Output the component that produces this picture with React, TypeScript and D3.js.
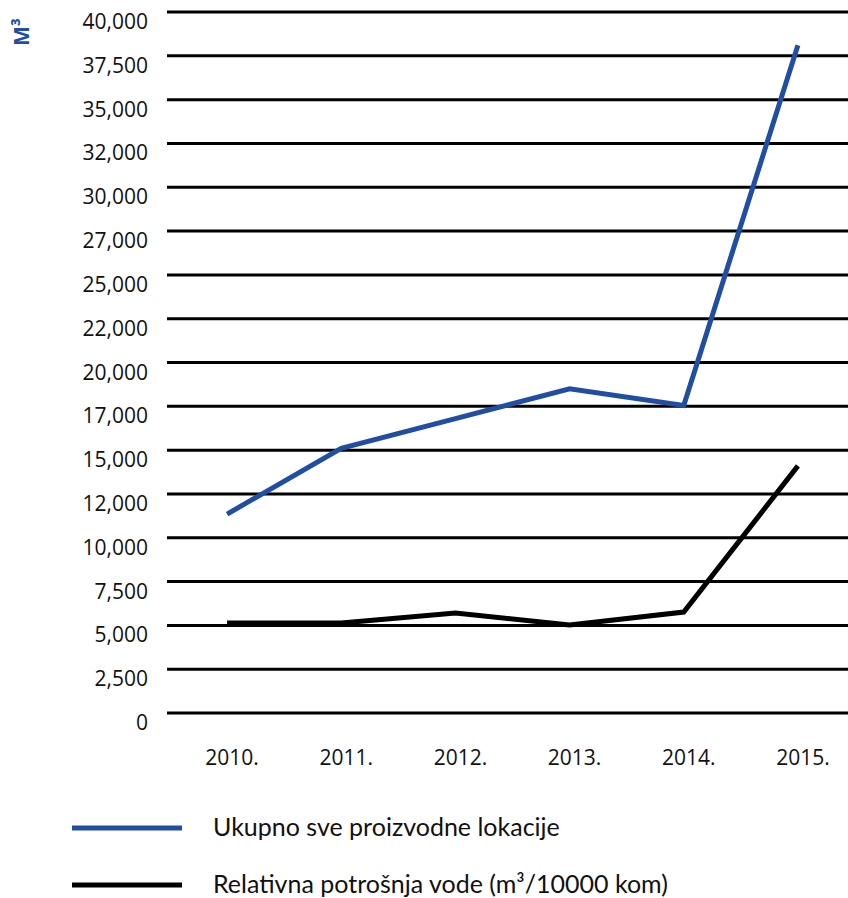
import * as d3 from "d3";
import { useEffect, useRef } from "react";

const years = ["2010.", "2011.", "2012.", "2013.", "2014.", "2015."];
const ukupno = [11350, 15100, 16800, 18500, 17550, 38100];
const relativna = [5130, 5130, 5700, 5020, 5760, 14100];
const tickValues = d3.range(0, 40001, 2500);
const tickLabels = [
  "0", "2,500", "5,000", "7,500", "10,000", "12,000", "15,000", "17,000", "20,000",
  "22,000", "25,000", "27,000", "30,000", "32,000", "35,000", "37,500", "40,000",
];
const legendItems = [
  { label: "Ukupno sve proizvodne lokacije", color: "#1f4ea3" },
  { label: "Relativna potrošnja vode (m³/10000 kom)", color: "#000000" },
];

const App = () => {
  const svgRef = useRef<SVGSVGElement | null>(null);

  useEffect(() => {
    const svg = d3.select(svgRef.current);
    svg.selectAll("*").remove();

    const width = 848;
    const left = 170, right = 855, top = 12, bottom = 713;

    const x = d3.scalePoint().domain(years).range([left, right]).padding(0.5);
    const y = d3.scaleLinear().domain([0, 40000]).range([bottom, top]);

    // grid lines
    svg.append("g")
      .selectAll("line")
      .data(tickValues)
      .join("line")
      .attr("x1", left - 3)
      .attr("x2", width)
      .attr("y1", d => y(d))
      .attr("y2", d => y(d))
      .attr("stroke", "#000")
      .attr("stroke-width", 3);

    // y tick labels (sit just below their grid line)
    svg.append("g")
      .selectAll("text")
      .data(tickValues)
      .join("text")
      .attr("x", 148)
      .attr("y", d => y(d) + 17)
      .attr("text-anchor", "end")
      .style("font-family", "'Open Sans', sans-serif")
      .style("font-size", "21px")
      .attr("fill", "#111")
      .text((d, i) => tickLabels[i]);

    // x labels
    svg.append("g")
      .selectAll("text")
      .data(years)
      .join("text")
      .attr("x", d => (x(d) as number) + 5)
      .attr("y", 765)
      .attr("text-anchor", "middle")
      .style("font-family", "'Open Sans', sans-serif")
      .style("font-size", "21px")
      .attr("fill", "#111")
      .text(d => d);

    // axis title
    svg.append("text")
      .attr("transform", "translate(29,32) rotate(-90)")
      .attr("text-anchor", "middle")
      .style("font-family", "'Open Sans', sans-serif")
      .style("font-size", "21px")
      .style("font-weight", "bold")
      .attr("fill", "#1f4ea3")
      .text("M³");

    const line = d3.line<number>()
      .x((d, i) => x(years[i]) as number)
      .y(d => y(d));

    svg.append("path")
      .attr("d", line(relativna))
      .attr("fill", "none")
      .attr("stroke", "#000")
      .attr("stroke-width", 5);

    svg.append("path")
      .attr("d", line(ukupno))
      .attr("fill", "none")
      .attr("stroke", legendItems[0].color)
      .attr("stroke-width", 5);

    // legend
    const lg = svg.append("g")
      .selectAll("g")
      .data(legendItems)
      .join("g")
      .attr("transform", (d, i) => `translate(0,${828 + i * 57})`);

    lg.append("line")
      .attr("x1", 72)
      .attr("x2", 182)
      .attr("stroke", d => d.color)
      .attr("stroke-width", 5);

    lg.append("text")
      .attr("x", 213)
      .attr("y", 8)
      .style("font-family", "Lato, sans-serif")
      .style("font-size", "25px")
      .attr("fill", "#111")
      .text(d => d.label);
  }, []);

  return (
    <svg
      ref={svgRef}
      width={848}
      height={898}
      style={{ position: "absolute", left: 0, top: 0, background: "#fff" }}
    />
  );
};

export default App;
